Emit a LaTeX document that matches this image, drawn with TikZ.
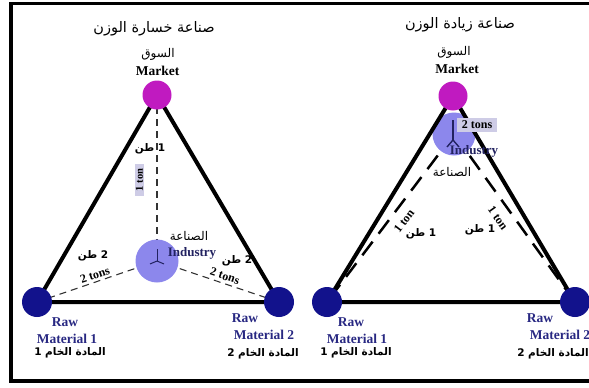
\documentclass[tikz,border=0pt]{standalone}
\usepackage{fontspec}
\setmainfont{Liberation Serif}
\newfontfamily\arabicfont[Script=Arabic]{DejaVu Sans}
\TeXXeTstate=1
\definecolor{mktc}{RGB}{192,26,192}
\definecolor{rawc}{RGB}{18,18,140}
\definecolor{indc}{RGB}{140,135,236}
\definecolor{boxc}{RGB}{206,204,230}
\definecolor{rawtxt}{RGB}{40,40,130}
\definecolor{indtxt}{RGB}{34,34,96}
\pgfdeclarelayer{flow}
\pgfdeclarelayer{ind}
\pgfdeclarelayer{sides}
\pgfsetlayers{flow,ind,sides,main}
\begin{document}
\begin{tikzpicture}[x=1pt,y=-1pt,
  side/.style={line width=4pt,black},
  thinflow/.style={line width=1.1pt,gray!40!black,dash pattern=on 7pt off 5pt},
  thickflow/.style={line width=2.5pt,black,dash pattern=on 17pt off 10pt},
  marketdot/.style={circle,fill=mktc,minimum size=29pt,inner sep=0pt},
  rawdot/.style={circle,fill=rawc,minimum size=30pt,inner sep=0pt},
  inddot/.style={circle,fill=indc,minimum size=43pt,inner sep=0pt},
  en/.style={font=\bfseries\fontsize{13.5}{14}\selectfont,inner sep=0pt},
  rawlbl/.style={en,text=rawtxt},
  indlbl/.style={font=\bfseries\fontsize{13}{14}\selectfont,text=indtxt,inner sep=0pt},
  ar/.style={font=\arabicfont\fontsize{12}{13}\selectfont,inner sep=0pt},
  artitle/.style={font=\arabicfont\fontsize{14.5}{15}\selectfont,inner sep=0pt},
  arb/.style={font=\arabicfont\bfseries\fontsize{10.5}{12}\selectfont,inner sep=0pt},
  tons/.style={font=\bfseries\fontsize{12}{12}\selectfont,inner sep=0pt},
  tonbox/.style={fill=boxc,inner xsep=5pt,inner ysep=0.8pt},
  ymark/.style={line width=1pt,indtxt}]
\useasboundingbox (0,0) rectangle (589,388);
\clip (0,0) rectangle (589,388);

% outer frame
\draw[line width=3.5pt] (11,3.5) rectangle (620,381);

% ---------- weight-losing industry ----------
\node[marketdot] (mL) at (157,95) {};
\node[rawdot] (r1L) at (37,302) {};
\node[rawdot] (r2L) at (279,302) {};
\begin{pgfonlayer}{ind}
\node[inddot] (iL) at (157,261) {};
\end{pgfonlayer}
\begin{pgfonlayer}{flow}
\draw[thinflow] (mL.center) -- (iL.center);
\draw[thinflow] (iL.center) -- (r1L.center);
\draw[thinflow] (iL.center) -- (r2L.center);
\end{pgfonlayer}
\begin{pgfonlayer}{sides}
\draw[side] (mL.center) -- (r1L.center) -- (r2L.center) -- cycle;
\end{pgfonlayer}
\draw[ymark] (iL.center) -- ++(0,-12);
\draw[ymark] (iL.center) -- ++(-7,3);
\draw[ymark] (iL.center) -- ++(7,3);

\node[artitle] (tL) at (154,29) {\beginR صناعة خسارة الوزن\endR};
\node[ar] (sL) at (158,54) {\beginR السوق\endR};
\node[en] (mkL) at (157.5,71) {Market};
\node[arb] (w1L) at (150,149) {\beginR 1 طن\endR};
\node[tons,tonbox,rotate=90] (bL) at (139.5,180) {\fontsize{10.5}{11}\selectfont 1 ton};
\node[ar] (aiL) at (189,236) {\beginR الصناعة\endR};
\node[indlbl] (eiL) at (192,253) {Industry};
\node[arb] (w2aL) at (93,256) {\beginR 2 طن\endR};
\node[arb] (w2bL) at (237,261) {\beginR 2 طن\endR};
\node[tons,rotate=18.5] (t2aL) at (95,275) {2 tons};
\node[tons,rotate=-18.5] (t2bL) at (225,276) {2 tons};
\node[rawlbl] (rw1L) at (65,322) {Raw};
\node[rawlbl] (rm1L) at (67,339) {Material 1};
\node[arb] (ar1L) at (70,353) {\beginR المادة الخام 1\endR};
\node[rawlbl] (rw2L) at (245,318) {Raw};
\node[rawlbl] (rm2L) at (264,335) {Material 2};
\node[arb] (ar2L) at (263,354) {\beginR المادة الخام 2\endR};

% ---------- weight-gaining industry ----------
\node[marketdot] (mR) at (453,96) {};
\node[rawdot] (r1R) at (327,302) {};
\node[rawdot] (r2R) at (575,302) {};
\begin{pgfonlayer}{ind}
\node[inddot] (iR) at (454,134) {};
\end{pgfonlayer}
\begin{pgfonlayer}{flow}
\draw[thickflow] (iR.center) -- (r1R.center);
\draw[thickflow] (iR.center) -- (r2R.center);
\end{pgfonlayer}
\begin{pgfonlayer}{sides}
\draw[side] (mR.center) -- (r1R.center) -- (r2R.center) -- cycle;
\end{pgfonlayer}
\coordinate (yR) at (453,140);
\draw[ymark,line width=1.8pt] (453,120) -- (yR);
\draw[ymark,line width=1.4pt] (yR) -- ++(-6,7);
\draw[ymark,line width=1.4pt] (yR) -- ++(6,7);

\node[artitle] (tR) at (460,25) {\beginR صناعة زيادة الوزن\endR};
\node[ar] (sR) at (454,52.5) {\beginR السوق\endR};
\node[en] (mkR) at (457,68.5) {Market};
\node[tons,tonbox,inner ysep=3pt] (bR) at (477,125) {2 tons};
\node[indlbl] (eiR) at (474,151) {Industry};
\node[ar] (aiR) at (452,172) {\beginR الصناعة\endR};
\node[tons,rotate=52.6] (t1aR) at (404,221) {1 ton};
\node[tons,rotate=-54.2] (t1bR) at (498,218) {1 ton};
\node[arb] (w1aR) at (421,234) {\beginR 1 طن\endR};
\node[arb] (w1bR) at (480,230) {\beginR 1 طن\endR};
\node[rawlbl] (rw1R) at (351,322) {Raw};
\node[rawlbl] (rm1R) at (357,339) {Material 1};
\node[arb] (ar1R) at (356,353) {\beginR المادة الخام 1\endR};
\node[rawlbl] (rw2R) at (540,318) {Raw};
\node[rawlbl] (rm2R) at (560,335) {Material 2};
\node[arb] (ar2R) at (553,354) {\beginR المادة الخام 2\endR};
\end{tikzpicture}
\end{document}
